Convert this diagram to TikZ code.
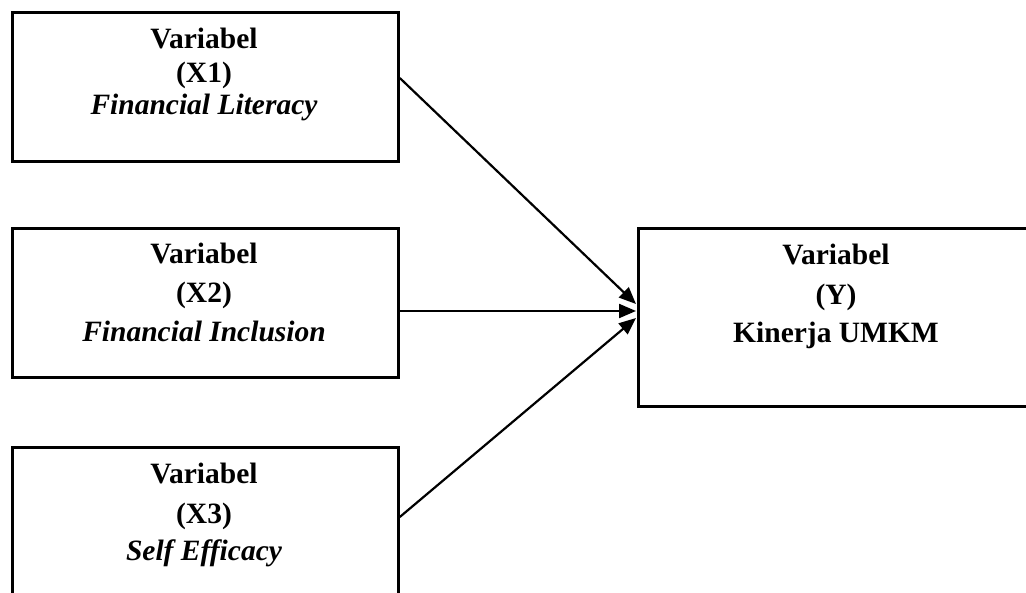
\documentclass[tikz,border=0pt]{standalone}
\usepackage{fontspec}
\setmainfont{Liberation Serif}
\usetikzlibrary{arrows.meta}
\begin{document}
\begin{tikzpicture}[x=1pt,y=-1pt,
  varbox/.style={draw=black,line width=2.8pt,rectangle,anchor=north west,inner sep=0pt},
  lbl/.style={font=\fontsize{29.5}{33}\selectfont\bfseries,anchor=base,inner sep=0pt},
  ilbl/.style={font=\fontsize{29.5}{33}\selectfont\bfseries\itshape,anchor=base,inner sep=0pt},
  conn/.style={line width=2.2pt,-{Triangle[length=17pt,width=14pt]}}]
\useasboundingbox (0,0) rectangle (1026,593);
\clip (0,0) rectangle (1026,593);
% boxes
\node[varbox,minimum width=386pt,minimum height=149pt] (x1) at (11,11) {};
\node[varbox,minimum width=386pt,minimum height=149pt] (x2) at (11,227) {};
\node[varbox,minimum width=386pt,minimum height=170pt] (x3) at (11,446) {};
\node[varbox,minimum width=400pt,minimum height=178pt] (y) at (637,227) {};
% texts
\node[lbl] (x1a) at (204,49) {Variabel};
\node[lbl] (x1b) at (204,83) {(X1)};
\node[ilbl] (x1c) at (204,115) {Financial Literacy};
\node[lbl] (x2a) at (204,264) {Variabel};
\node[lbl] (x2b) at (204,303) {(X2)};
\node[ilbl] (x2c) at (204,342) {Financial Inclusion};
\node[lbl] (x3a) at (204,484) {Variabel};
\node[lbl] (x3b) at (204,523) {(X3)};
\node[ilbl] (x3c) at (204,560) {Self Efficacy};
\node[lbl] (ya) at (836,265) {Variabel};
\node[lbl] (yb) at (836,305) {(Y)};
\node[lbl] (yc) at (836,343) {Kinerja UMKM};
% connectors
\coordinate (y1) at (636,304);
\coordinate (y2) at (636,311);
\coordinate (y3) at (636,318);
\draw[conn] (x1.north east |- 0,78) -- (y1);
\draw[conn] (x2.north east |- 0,311) -- (y2);
\draw[conn] (x3.north east |- 0,517) -- (y3);
\end{tikzpicture}
\end{document}
